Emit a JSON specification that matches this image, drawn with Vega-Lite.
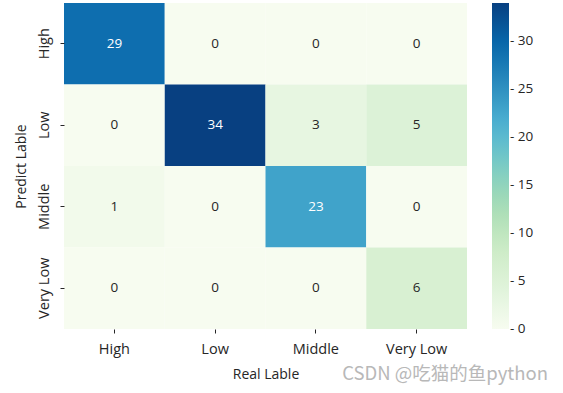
{
  "$schema": "https://vega.github.io/schema/vega-lite/v6.json",
  "width": 403,
  "height": 326,
  "autosize": "none",
  "padding": {"left": 64, "top": 3, "right": 96, "bottom": 64},
  "background": "white",
  "config": {
    "font": "Open Sans",
    "view": {"stroke": null},
    "axis": {"labelColor": "#262626", "titleColor": "#262626", "tickColor": "#262626", "labelFontSize": 14.5, "titleFontSize": 14, "titleFontWeight": "normal", "domain": false, "tickSize": 4, "labelFont": "Open Sans", "titleFont": "Open Sans"}
  },
  "title": {"text": "CSDN @吃猫的鱼python", "orient": "bottom", "anchor": "end", "frame": "group", "font": "Noto Sans CJK SC", "fontSize": 18.5, "fontWeight": "normal", "color": "#b8b8b8", "dx": 81, "offset": -17},
  "data": {"values": [
    {"pred": "High", "real": "High", "v": 29},
    {"pred": "High", "real": "Low", "v": 0},
    {"pred": "High", "real": "Middle", "v": 0},
    {"pred": "High", "real": "Very Low", "v": 0},
    {"pred": "Low", "real": "High", "v": 0},
    {"pred": "Low", "real": "Low", "v": 34},
    {"pred": "Low", "real": "Middle", "v": 3},
    {"pred": "Low", "real": "Very Low", "v": 5},
    {"pred": "Middle", "real": "High", "v": 1},
    {"pred": "Middle", "real": "Low", "v": 0},
    {"pred": "Middle", "real": "Middle", "v": 23},
    {"pred": "Middle", "real": "Very Low", "v": 0},
    {"pred": "Very Low", "real": "High", "v": 0},
    {"pred": "Very Low", "real": "Low", "v": 0},
    {"pred": "Very Low", "real": "Middle", "v": 0},
    {"pred": "Very Low", "real": "Very Low", "v": 6}
  ]},
  "encoding": {
    "x": {"field": "real", "type": "nominal", "sort": ["High", "Low", "Middle", "Very Low"], "title": "Real Lable", "axis": {"labelAngle": 0, "labelPadding": 9, "titlePadding": 12}},
    "y": {"field": "pred", "type": "nominal", "sort": ["High", "Low", "Middle", "Very Low"], "title": "Predict Lable", "axis": {"labelAngle": -90, "labelAlign": "center", "labelBaseline": "bottom", "labelPadding": 9, "titlePadding": 8}}
  },
  "layer": [
    {
      "mark": {"type": "rect"},
      "encoding": {
        "color": {"field": "v", "type": "quantitative",
          "scale": {"domain": [0, 4.25, 8.5, 12.75, 17, 21.25, 25.5, 29.75, 34], "range": ["#f7fcf0", "#e0f3db", "#ccebc5", "#a8ddb5", "#7bccc4", "#4eb3d3", "#2b8cbe", "#0868ac", "#084081"], "interpolate": "rgb"},
          "legend": {"title": null, "gradientLength": 326, "gradientThickness": 17, "offset": 25, "padding": 0, "values": [0, 5, 10, 15, 20, 25, 30], "labelExpr": "'- ' + datum.label", "labelFontSize": 13.5, "labelColor": "#262626", "labelOffset": 1, "gradientStrokeWidth": 0, "labelFont": "Open Sans",
            "encode": {"labels": {"update": {"dy": {"signal": "datum.value == 0 ? 7 : 0"}}}}}}
      }
    },
    {
      "mark": {"type": "text", "fontSize": 13.5, "font": "Open Sans"},
      "encoding": {
        "text": {"field": "v", "type": "quantitative"},
        "color": {"condition": {"test": "datum.v > 20", "value": "white"}, "value": "#262626"}
      }
    }
  ]
}
